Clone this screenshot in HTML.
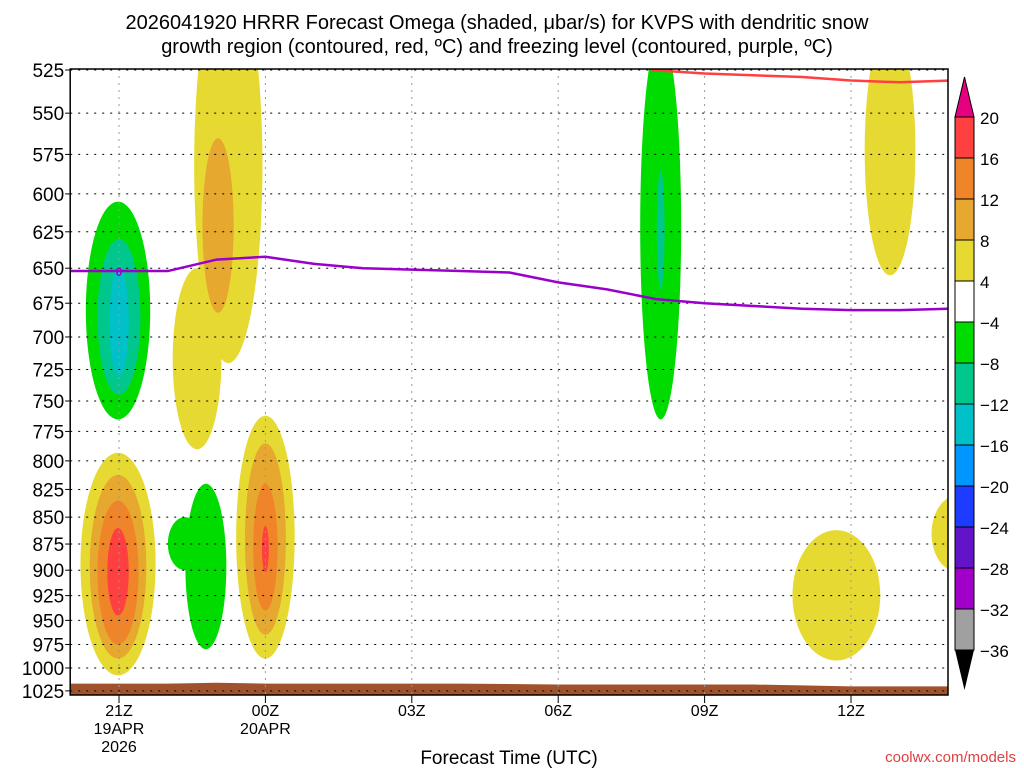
<!DOCTYPE html>
<html><head><meta charset="utf-8"><style>
body{margin:0;background:#fff;}
svg{display:block;font-family:"Liberation Sans",sans-serif;}
</style></head><body>
<svg id="c" width="1024" height="768">
<text x="497" y="29" font-size="20" text-anchor="middle">2026041920 HRRR Forecast Omega (shaded, μbar/s) for KVPS with dendritic snow</text>
<text x="497" y="53" font-size="20" text-anchor="middle">growth region (contoured, red, ºC) and freezing level (contoured, purple, ºC)</text>
<g id="plot"></g>
<text x="509" y="764" font-size="19" text-anchor="middle">Forecast Time (UTC)</text>
<text x="1016" y="762" font-size="15" text-anchor="end" fill="#e04040">coolwx.com/models</text>
</svg>
<script>
const pLevels=[525,550,575,600,625,650,675,700,725,750,775,800,825,850,875,900,925,950,975,1000,1025];
const xTickHours=[1,4,7,10,13,16];
const xTickLabels=[["21Z","19APR","2026"],["00Z","20APR"],["03Z"],["06Z"],["09Z"],["12Z"]];
const cbLevels=[20,16,12,8,4,-4,-8,-12,-16,-20,-24,-28,-32,-36];
const cbColors=["#ff4040","#f08428","#e6a82e","#e6da32","#ffffff","#00dc00","#00c88c","#00c0c8","#0096ff","#1e3cff","#6414c8","#a000c8","#a0a0a0"];
const fzHours=[0,1,2,3,4,5,6,7,8,9,10,11,12,13,14,15,16,17,18];
const fzPres=[652,652,652,644,642,647,650,651,652,653,660,665,672,675,677,679,680,680,679];
const dgzHours=[11.9,13,15,16,17,18];
const dgzPres=[525,527,529,531,532,531];
const sfcHours=[0,2,3,4,6,8,10,12,14,15,16,18];
const sfcPres=[1017,1017,1016,1017,1017,1017,1018,1018,1018,1019,1020,1020];
// blobs: [centerHour, halfWidthHours, topP, bottomP, colorIndex]
const blobs=[
 [0.98,0.77,793,1008,3],[0.98,0.58,812,990,2],[0.98,0.42,835,975,1],[0.98,0.22,860,945,0],
 [0.98,0.66,605,765,5],[1.0,0.44,630,745,6],[1.0,0.2,650,730,7],
 [2.78,0.42,820,980,5],[2.35,0.35,850,900,5],
 [3.24,0.7,470,720,3],[2.6,0.5,650,790,3],[3.03,0.32,565,682,2],
 [4.0,0.6,762,990,3],[4.0,0.42,785,965,2],[4.0,0.25,820,940,1],[4.0,0.07,858,902,0],
 [12.1,0.42,505,765,5],[12.1,0.08,585,665,6],
 [16.8,0.52,500,655,3],[15.7,0.9,862,992,3],[18.2,0.55,830,902,3]
];
const X0=70.2,X1=948,Y0=69,Y1=695,HPX=48.8;
const x=h=>X0+h*HPX;
const y=p=>70+928*Math.log(p/525);
const NS="http://www.w3.org/2000/svg";
const plot=document.getElementById('plot');
function mk(t,a,par){const e=document.createElementNS(NS,t);for(const k in a)e.setAttribute(k,a[k]);(par||plot).appendChild(e);return e;}
const defs=mk('defs',{});const cp=mk('clipPath',{id:'clip'},defs);mk('rect',{x:X0,y:Y0,width:X1-X0,height:Y1-Y0},cp);
const g=mk('g',{'clip-path':'url(#clip)'});
blobs.forEach(b=>{
 const cx=x(b[0]),rx=b[1]*HPX,yt=y(b[2]),yb=y(b[3]);
 const e=mk('ellipse',{cx:cx,cy:(yt+yb)/2,rx:rx,ry:(yb-yt)/2,fill:cbColors[b[4]]},g);
 
 
});
let td=`M${x(sfcHours[0])},${Y1}`;sfcHours.forEach((h,i)=>td+=` L${x(h)},${y(sfcPres[i])}`);td+=` L${X1},${Y1} Z`;
const terr=mk('path',{d:td,fill:'#a0522d'},g);


pLevels.forEach(p=>{const l=mk('line',{x1:X0,x2:X1,y1:y(p),y2:y(p),stroke:'#000','stroke-dasharray':'2,6'},g);

});
xTickHours.forEach(h=>{const l=mk('line',{x1:x(h),x2:x(h),y1:Y0,y2:Y1,stroke:'#999','stroke-dasharray':'2,5'},g);

});
const fz=mk('polyline',{points:fzHours.map((h,i)=>x(h)+','+y(fzPres[i])).join(' '),fill:'none',stroke:'#9900cc','stroke-width':2.5},g);


const dg=mk('polyline',{points:dgzHours.map((h,i)=>x(h)+','+y(dgzPres[i])).join(' '),fill:'none',stroke:'#ff4040','stroke-width':2.5},g);


const fl=mk('text',{x:x(1),y:y(652)+5,'font-size':12,'text-anchor':'middle',fill:'#9900cc','font-weight':'bold'},g);fl.textContent='0';


const fr=mk('rect',{x:X0,y:Y0,width:X1-X0,height:Y1-Y0,fill:'none',stroke:'#000','stroke-width':1.5});


pLevels.forEach(p=>{mk('line',{x1:X0-5,x2:X0,y1:y(p),y2:y(p),stroke:'#000'});
const t=mk('text',{x:X0-6,y:y(p)+7,'font-size':19,'text-anchor':'end'});t.textContent=p;

});
xTickHours.forEach((h,i)=>{mk('line',{x1:x(h),x2:x(h),y1:Y1,y2:Y1+8,stroke:'#000'});
xTickLabels[i].forEach((s,j)=>{const t=mk('text',{x:x(h),y:716+j*18,'font-size':16,'text-anchor':'middle'});t.textContent=s;

});});
const CBX=955,CBW=19,CBT=117,CBS=41;
const up=mk('polygon',{points:`${CBX},${CBT} ${CBX+CBW},${CBT} ${CBX+CBW/2},${CBT-40}`,fill:'#e6007f',stroke:'#000'});


cbColors.forEach((c,i)=>{const r=mk('rect',{x:CBX,y:CBT+i*CBS,width:CBW,height:CBS,fill:c,stroke:'#000'});

});
const yb=CBT+cbColors.length*CBS;
const dn=mk('polygon',{points:`${CBX},${yb} ${CBX+CBW},${yb} ${CBX+CBW/2},${yb+40}`,fill:'#000'});


cbLevels.forEach((v,i)=>{const t=mk('text',{x:980,y:CBT+i*CBS+7,'font-size':17});t.textContent=v<0?'\u2212'+(-v):v;

});
</script>
</body></html>
